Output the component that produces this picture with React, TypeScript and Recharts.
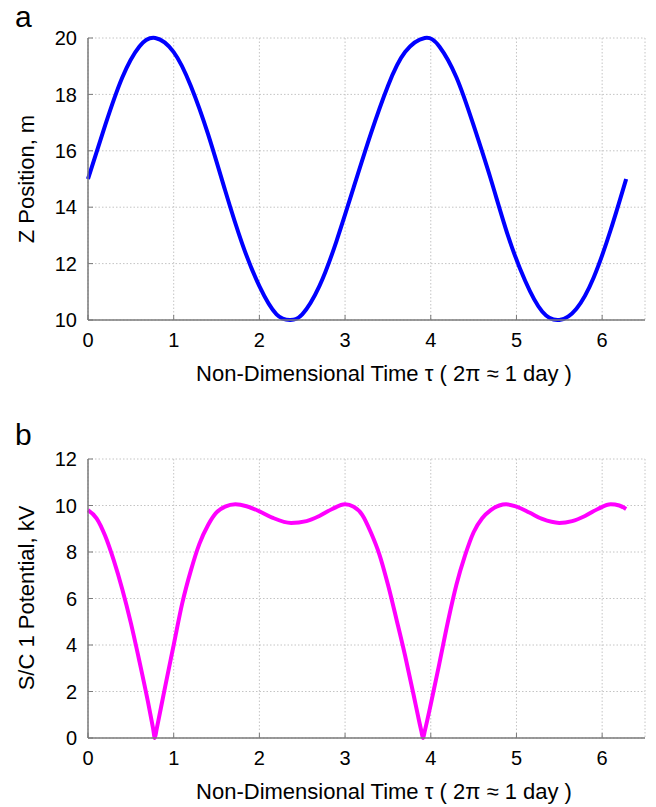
import { LineChart, Line, XAxis, YAxis, CartesianGrid } from "recharts";

// panel a: Z position vs non-dimensional time
const tauA = [0, 0.2, 0.4, 0.6, 0.785, 1.0, 1.2, 1.4, 1.6, 1.8, 2.0, 2.2, 2.36, 2.5, 2.7, 2.9, 3.1, 3.3, 3.5, 3.7, 3.93, 4.1, 4.3, 4.5, 4.7, 4.9, 5.1, 5.3, 5.5, 5.7, 5.9, 6.1, 6.28];
const zPos = [15.0, 16.9, 18.6, 19.7, 20.0, 19.5, 18.3, 16.6, 14.6, 12.7, 11.2, 10.2, 10.0, 10.2, 11.2, 12.8, 14.7, 16.6, 18.3, 19.5, 20.0, 19.7, 18.6, 16.9, 15.0, 13.0, 11.4, 10.3, 10.0, 10.4, 11.5, 13.2, 15.0];

// panel b: S/C 1 potential
const tauB = [0, 0.1, 0.2, 0.3, 0.4, 0.5, 0.6, 0.7, 0.76, 0.78, 0.8, 0.9, 1.0, 1.1, 1.2, 1.3, 1.4, 1.5, 1.6, 1.72, 1.85, 2.0, 2.15, 2.37, 2.55, 2.7, 2.85, 3.0, 3.1, 3.2, 3.3, 3.4, 3.5, 3.6, 3.7, 3.8, 3.85, 3.89, 3.91, 3.93, 4.0, 4.1, 4.2, 4.3, 4.4, 4.5, 4.6, 4.7, 4.8, 4.88, 5.0, 5.15, 5.3, 5.5, 5.65, 5.8, 5.95, 6.1, 6.2, 6.28];
const potential = [9.8, 9.45, 8.7, 7.65, 6.4, 4.95, 3.3, 1.55, 0.4, 0, 0.36, 2.2, 4.0, 5.8, 7.2, 8.35, 9.15, 9.7, 9.95, 10.05, 9.97, 9.75, 9.48, 9.25, 9.33, 9.55, 9.85, 10.05, 9.95, 9.6, 8.85, 7.9, 6.6, 5.1, 3.55, 1.85, 0.97, 0.3, 0, 0.3, 1.45, 3.2, 5.0, 6.6, 7.85, 8.85, 9.45, 9.8, 10.0, 10.05, 9.95, 9.7, 9.42, 9.25, 9.33, 9.55, 9.85, 10.05, 10.0, 9.85];

const xTicks = [0, 1, 2, 3, 4, 5, 6];
const zTicks = [10, 12, 14, 16, 18, 20];
const vTicks = [0, 2, 4, 6, 8, 10, 12];

const xTitle = "Non-Dimensional Time \u03c4 ( 2\u03c0 \u2248 1 day )";

const dataA = tauA.map((t, i) => ({ t, z: zPos[i] }));
const dataB = tauB.map((t, i) => ({ t, v: potential[i] }));

const FONT = "'Liberation Sans', Arial, sans-serif";
const tickStyle = { fill: "#000", fontSize: 20, fontFamily: FONT };
const axisLine = { stroke: "#7a7a7a", strokeWidth: 1.5 };

const titleText = (x: number, y: number, text: string, rotate = false) => () => (
  <text
    x={x}
    y={y}
    textAnchor="middle"
    fill="#000"
    fontSize={22}
    fontFamily={FONT}
    transform={rotate ? `rotate(-90, ${x}, ${y})` : undefined}
  >
    {text}
  </text>
);

const panelLetter = { position: "absolute" as const, left: 15, fontSize: 30, fontFamily: FONT };

export default function App() {
  return (
    <div style={{ position: "fixed", left: 0, top: 0, width: 656, height: 807, background: "#fff" }}>
      <div style={{ ...panelLetter, top: 0 }}>a</div>
      <div style={{ ...panelLetter, top: 418 }}>b</div>

      <div style={{ position: "absolute", left: 0, top: 0 }}>
        <LineChart width={656} height={400} data={dataA} margin={{ top: 38, right: 11, left: 28, bottom: 0 }}>
          <CartesianGrid stroke="#c4c4c4" strokeDasharray="1.5 2" />
          <XAxis
            type="number"
            dataKey="t"
            domain={[0, 6.5]}
            ticks={xTicks}
            height={80}
            tick={tickStyle}
            tickSize={-5}
            tickMargin={18}
            axisLine={axisLine}
            tickLine={{ stroke: "#7a7a7a" }}
            label={{ content: titleText(384, 381, xTitle) }}
          />
          <YAxis
            type="number"
            domain={[10, 20]}
            ticks={zTicks}
            width={60}
            tick={tickStyle}
            tickSize={-5}
            tickMargin={16}
            axisLine={axisLine}
            tickLine={{ stroke: "#7a7a7a" }}
            label={{ content: titleText(34, 179, "Z Position, m", true) }}
          />
          <Line type="natural" dataKey="z" stroke="#0000ff" strokeWidth={4} dot={false} isAnimationActive={false} />
        </LineChart>
      </div>

      <div style={{ position: "absolute", left: 0, top: 400 }}>
        <LineChart width={656} height={407} data={dataB} margin={{ top: 59, right: 11, left: 28, bottom: 0 }}>
          <CartesianGrid stroke="#c4c4c4" strokeDasharray="1.5 2" />
          <XAxis
            type="number"
            dataKey="t"
            domain={[0, 6.5]}
            ticks={xTicks}
            height={69}
            tick={tickStyle}
            tickSize={-5}
            tickMargin={18}
            axisLine={axisLine}
            tickLine={{ stroke: "#7a7a7a" }}
            label={{ content: titleText(384, 399, xTitle) }}
          />
          <YAxis
            type="number"
            domain={[0, 12]}
            ticks={vTicks}
            width={60}
            tick={tickStyle}
            tickSize={-5}
            tickMargin={16}
            axisLine={axisLine}
            tickLine={{ stroke: "#7a7a7a" }}
            label={{ content: titleText(34, 198, "S/C 1 Potential, kV", true) }}
          />
          <Line type="monotone" dataKey="v" stroke="#ff00ff" strokeWidth={4} dot={false} isAnimationActive={false} />
        </LineChart>
      </div>
    </div>
  );
}
